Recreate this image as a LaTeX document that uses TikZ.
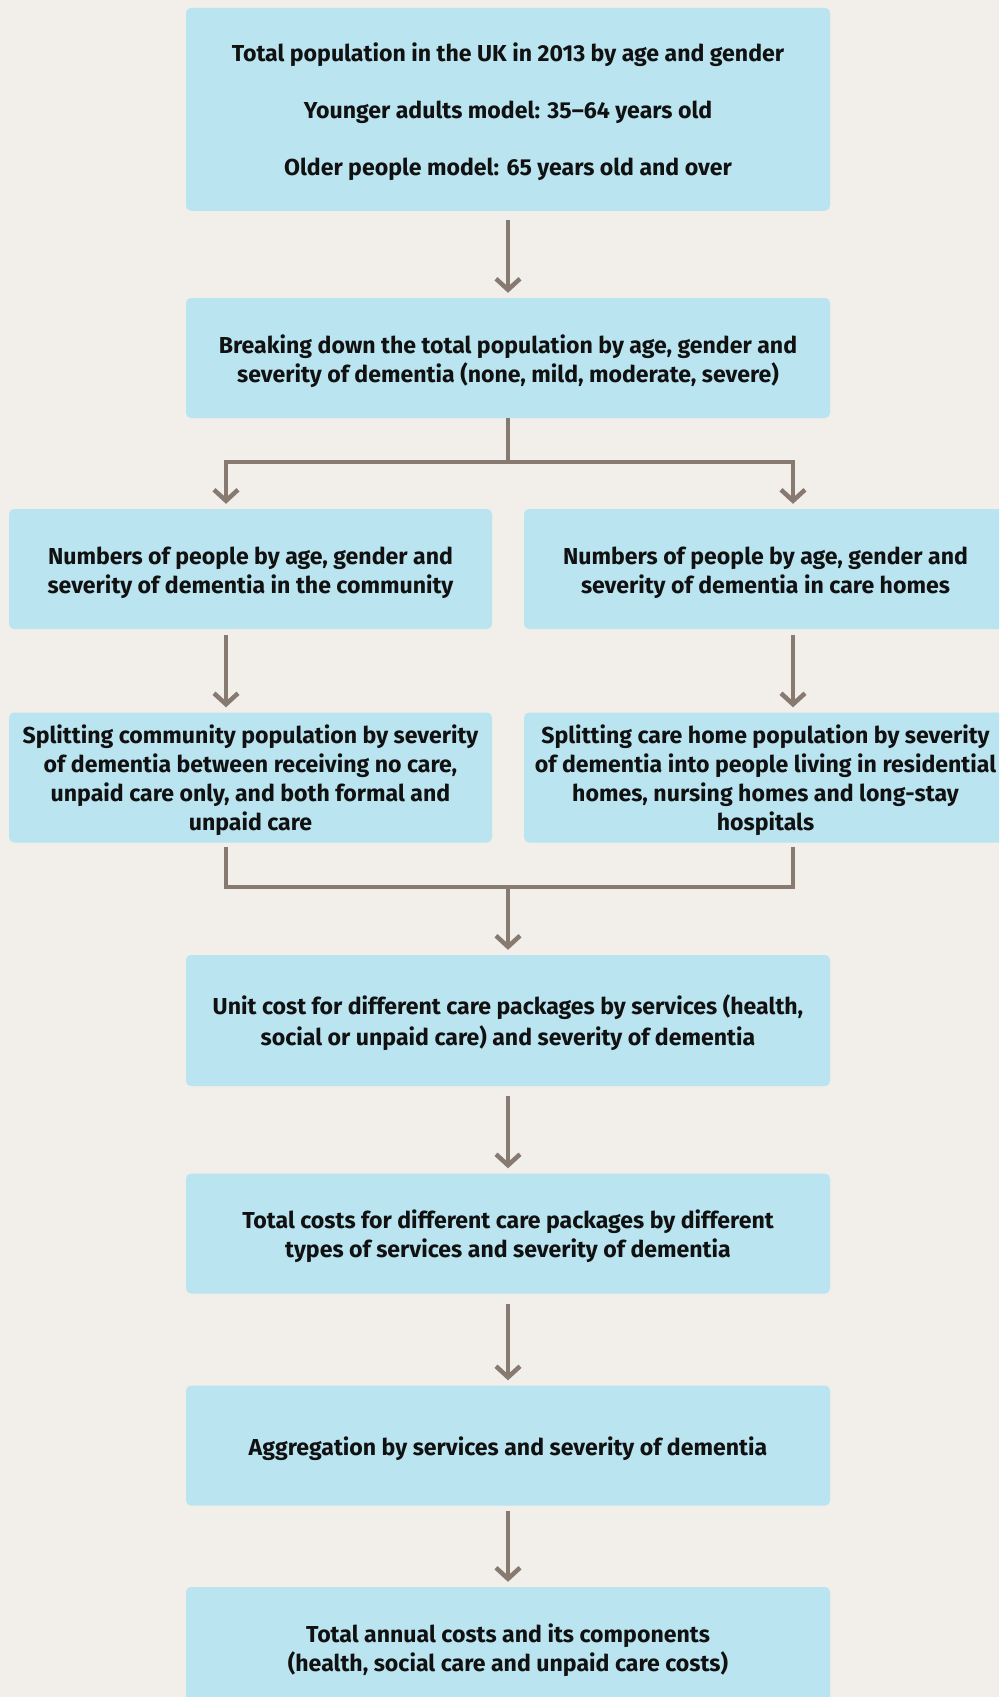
\documentclass[tikz,border=0pt]{standalone}
\usepackage{fontspec}
\setmainfont[Ligatures=NoCommon]{Fira Sans}
\usetikzlibrary{arrows.meta,calc}
\definecolor{bg}{HTML}{F2EEEA}
\definecolor{boxc}{HTML}{B9E4F0}
\definecolor{arrc}{HTML}{877A71}
\definecolor{txt}{HTML}{111111}
\newcommand\topstrut{\rule{0pt}{24.5pt}}
\tikzset{
  box/.style={fill=boxc, rounded corners=5pt, align=center, inner sep=0pt,
    font=\fontsize{23.1}{29}\selectfont\bfseries, text=txt},
  widebox/.style={box, minimum width=644pt},
  halfbox/.style={box, minimum width=483pt},
  ln/.style={draw=arrc, line width=4.5pt},
  arr/.style={ln, -{Straight Barb[length=11pt,width=24pt]}, shorten >=5pt},
}
\begin{document}
\begin{tikzpicture}[x=1pt,y=-1pt]
\useasboundingbox (0,0) rectangle (999,1697);
\fill[bg] (0,0) rectangle (999,1697);
\clip (0,0) rectangle (999,1697);

\node[widebox, minimum height=203pt] (b1) at (508,109.3)
  {\topstrut Total population in the UK in 2013 by age and gender\\[28pt]
   Younger adults model: 35--64 years old\\[28pt]
   Older people model: 65 years old and over};
\node[widebox, minimum height=120pt] (b2) at (508,358)
  {\topstrut Breaking down the total population by age, gender and\\
   severity of dementia (none, mild, moderate, severe)};
\node[halfbox, minimum height=120pt] (b3l) at (250.5,569)
  {\topstrut Numbers of people by age, gender and\\
   severity of dementia in the community};
\node[halfbox, minimum height=120pt] (b3r) at (765.5,569)
  {\topstrut Numbers of people by age, gender and\\
   severity of dementia in care homes};
\node[halfbox, minimum height=130pt] (b4l) at (250.5,777.5)
  {\topstrut Splitting community population by severity\\
   of dementia between receiving no care,\\
   unpaid care only, and both formal and\\
   unpaid care};
\node[halfbox, minimum height=130pt] (b4r) at (765.5,777.5)
  {\topstrut Splitting care home population by severity\\
   of dementia into people living in residential\\
   homes, nursing homes and long-stay\\
   hospitals};
\node[widebox, minimum height=131pt] (b5) at (508,1020.5)
  {\topstrut Unit cost for different care packages by services (health,\\[2.5pt]
   social or unpaid care) and severity of dementia};
\node[widebox, minimum height=120pt] (b6) at (508,1233.5)
  {\topstrut Total costs for different care packages by different\\
   types of services and severity of dementia};
\node[widebox, minimum height=120pt] (b7) at (508,1445.5)
  {\topstrut Aggregation by services and severity of dementia};
\node[widebox, minimum height=120pt] (b8) at (508,1647)
  {\topstrut Total annual costs and its components\\
   (health, social care and unpaid care costs)};

\coordinate (j1) at (508,462);
\coordinate (l1) at (226,462);
\coordinate (r1) at (793,462);
\coordinate (j2) at (508,887);

\draw[arr, shorten <=9pt] (b1) -- (b2);
\draw[ln] (b2.south) -- (j1);
\draw[arr] (j1) -| (l1 |- b3l.north);
\draw[arr] (j1) -| (r1 |- b3r.north);
\draw[arr, shorten <=6pt] (l1 |- b3l.south) -- (l1 |- b4l.north);
\draw[arr, shorten <=6pt] (r1 |- b3r.south) -- (r1 |- b4r.north);
\draw[ln, shorten <=4pt] (l1 |- b4l.south) |- (j2);
\draw[ln, shorten <=4pt] (r1 |- b4r.south) |- (j2);
\draw[arr] (j2) -- (b5.north);
\draw[arr, shorten <=10pt] (b5) -- (b6);
\draw[arr, shorten <=10pt] (b6) -- (b7);
\draw[arr, shorten <=5pt] (b7) -- (b8);
\end{tikzpicture}
\end{document}
